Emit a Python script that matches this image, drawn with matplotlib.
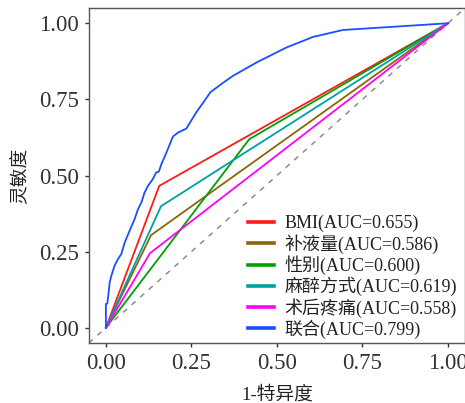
import matplotlib
matplotlib.use('Agg')
import matplotlib.pyplot as plt

plt.rcParams['font.family'] = ['Liberation Serif', 'Noto Sans CJK SC']
plt.rcParams['axes.unicode_minus'] = False

# ROC 曲线数据 (1-特异度, 灵敏度)
names = ['BMI', '补液量', '性别', '麻醉方式', '术后疼痛', '联合']
aucs = [0.655, 0.586, 0.600, 0.619, 0.558, 0.799]
colors = ['#FF1A1A', '#8B6508', '#00A000', '#00A0A0', '#FF00FF', '#1A4FFF']

fpr_bmi = [0, 0.156, 1]
tpr_bmi = [0, 0.466, 1]
fpr_fluid = [0, 0.132, 1]
tpr_fluid = [0, 0.304, 1]
fpr_sex = [0, 0.419, 1]
tpr_sex = [0, 0.619, 1]
fpr_anes = [0, 0.161, 1]
tpr_anes = [0, 0.399, 1]
fpr_pain = [0, 0.129, 1]
tpr_pain = [0, 0.245, 1]
fpr_comb = [0, 0, 0.004, 0.008, 0.011, 0.016, 0.025, 0.035, 0.045, 0.055,
            0.069, 0.084, 0.094, 0.104, 0.113, 0.123, 0.137, 0.147, 0.155,
            0.162, 0.175, 0.196, 0.211, 0.235, 0.264, 0.298, 0.305, 0.337,
            0.371, 0.440, 0.527, 0.605, 0.693, 1]
tpr_comb = [0, 0.078, 0.080, 0.116, 0.149, 0.171, 0.203, 0.225, 0.242, 0.280,
            0.318, 0.357, 0.390, 0.412, 0.444, 0.466, 0.488, 0.510, 0.513,
            0.537, 0.570, 0.628, 0.641, 0.654, 0.707, 0.761, 0.773, 0.800,
            0.827, 0.871, 0.920, 0.955, 0.978, 1]

curves = [(fpr_bmi, tpr_bmi), (fpr_fluid, tpr_fluid), (fpr_sex, tpr_sex),
          (fpr_anes, tpr_anes), (fpr_pain, tpr_pain), (fpr_comb, tpr_comb)]

fig = plt.figure(figsize=(4.65, 4.03), dpi=100)
ax = fig.add_axes([0.191, 0.149, 0.809, 0.831])

# 参考线
ax.plot([-0.05, 1.05], [-0.05, 1.05], color='#8C8C8C', linestyle=(0, (3.5, 4)),
        linewidth=1.1, zorder=1)

for (x, y), name, auc, c in zip(curves, names, aucs, colors):
    ax.plot(x, y, color=c, linewidth=1.3, label=f'{name}(AUC={auc:.3f})', zorder=2)

ax.set_xlim(-0.05, 1.05)
ax.set_ylim(-0.05, 1.05)
ticks = [0, 0.25, 0.5, 0.75, 1.0]
ax.set_xticks(ticks)
ax.set_yticks(ticks)
ax.set_xticklabels([f'{t:.2f}' for t in ticks])
ax.set_yticklabels([f'{t:.2f}' for t in ticks])
ax.tick_params(axis='both', labelsize=16.5, colors='#333333', length=3, width=1,
               pad=4)
for s in ax.spines.values():
    s.set_color('#555555')
    s.set_linewidth(1.0)

ax.set_xlabel('1-特异度', fontsize=13.5, color='#222222', labelpad=9)
ax.set_ylabel('灵敏度', fontsize=13.5, color='#222222', labelpad=7)

leg = ax.legend(loc='upper left', bbox_to_anchor=(248 / 465, 1 - 215 / 403),
                bbox_transform=fig.transFigure, frameon=False, fontsize=13,
                handlelength=1.45, handletextpad=0.55, labelspacing=0.1,
                borderaxespad=0, borderpad=0)
for h in leg.legend_handles:
    h.set_linewidth(2.6)
for t in leg.get_texts():
    t.set_color('#222222')

fig.savefig('out.png', dpi=100)
